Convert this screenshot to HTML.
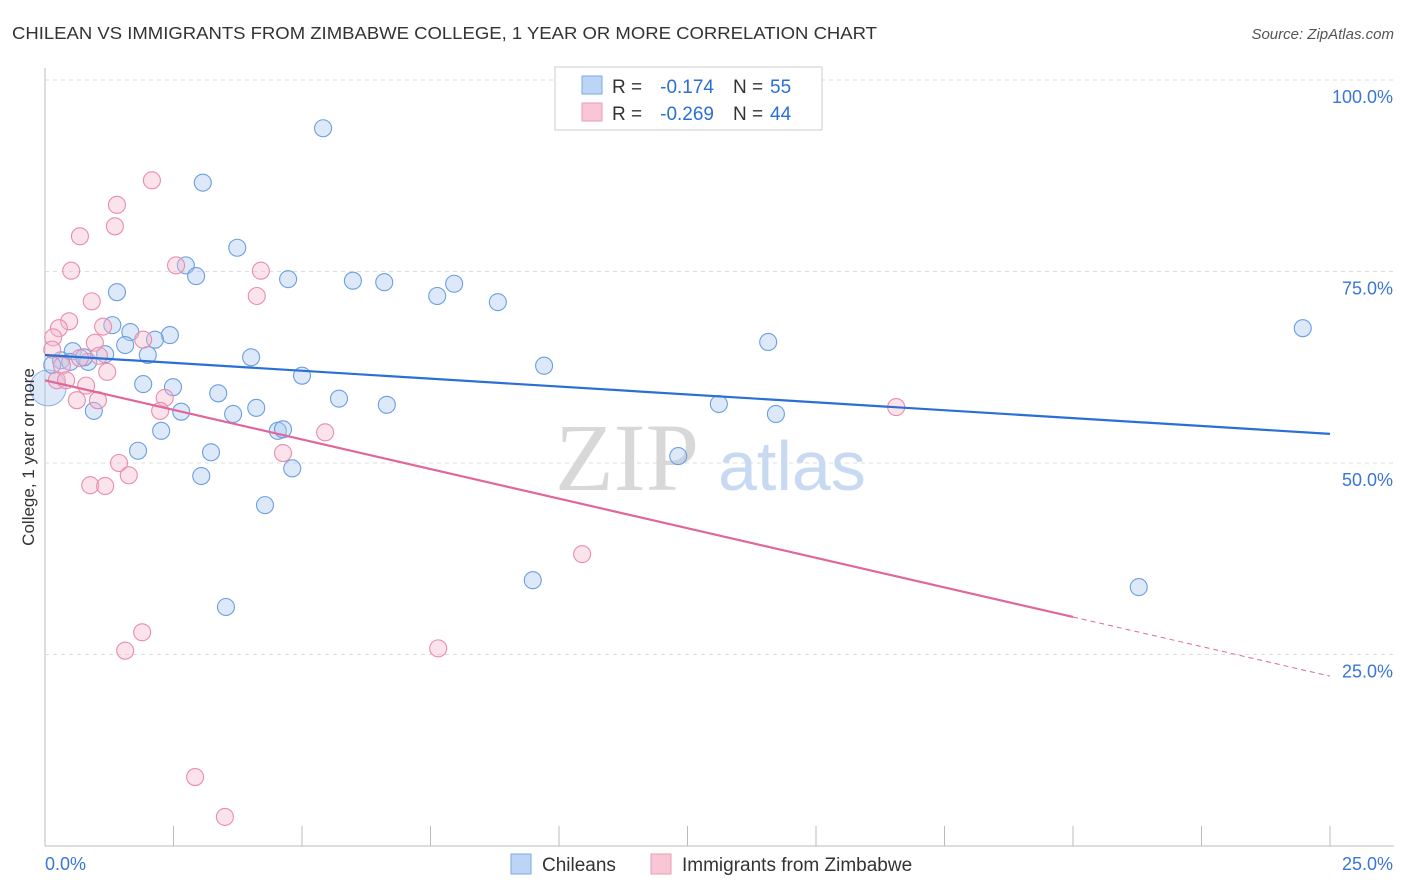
<!DOCTYPE html>
<html><head><meta charset="utf-8"><style>
body{margin:0;background:#fff;font-family:"Liberation Sans",sans-serif;}
svg{display:block}
</style></head><body>
<svg id="chart" width="1406" height="892" viewBox="0 0 1406 892" xmlns="http://www.w3.org/2000/svg">
<text x="12" y="39" font-size="17.5" fill="#333" textLength="865" lengthAdjust="spacingAndGlyphs">CHILEAN VS IMMIGRANTS FROM ZIMBABWE COLLEGE, 1 YEAR OR MORE CORRELATION CHART</text>
<text x="1394" y="39" font-size="15" fill="#555" font-style="italic" text-anchor="end">Source: ZipAtlas.com</text>
<g id="grid"></g>
<g>
<text x="555" y="490" fill="#d8d8d8" font-size="96" font-family="Liberation Serif,serif">ZIP</text>
<text x="718" y="490" fill="#c8daf2" font-family="Liberation Sans,sans-serif" font-size="70">atlas</text>
</g>
<g id="pts"></g>
<g id="lines"></g>
<text transform="translate(34,457) rotate(-90)" font-size="17" fill="#333" text-anchor="middle">College, 1 year or more</text>
<g font-size="19">
<rect x="555" y="67" width="267" height="63" fill="#fff" stroke="#ccc"/>
<rect x="582" y="76" width="20" height="18" fill="#bcd4f5" stroke="#7aa7e6"/>
<rect x="582" y="103" width="20" height="18" fill="#f9c6d6" stroke="#ec9ab5"/>
<text x="612" y="93" fill="#333">R =</text>
<text x="714" y="93" fill="#2a6fd6" text-anchor="end">-0.174</text>
<text x="733" y="93" fill="#333">N =</text>
<text x="770" y="93" fill="#2a6fd6">55</text>
<text x="612" y="120" fill="#333">R =</text>
<text x="714" y="120" fill="#2a6fd6" text-anchor="end">-0.269</text>
<text x="733" y="120" fill="#333">N =</text>
<text x="770" y="120" fill="#2a6fd6">44</text>
</g>
<g>
<rect x="511" y="854" width="20" height="20" fill="#bcd4f5" stroke="#7aa7e6"/>
<text x="542" y="871" font-size="19" fill="#333">Chileans</text>
<rect x="651" y="854" width="20" height="20" fill="#f9c6d6" stroke="#ec9ab5"/>
<text x="682" y="871" font-size="19" fill="#333">Immigrants from Zimbabwe</text>
</g>
</svg>
<script>
const yTicks=[25,50,75,100];
const yTickLabels=["25.0%","50.0%","75.0%","100.0%"];
const xTickLabels=["0.0%","25.0%"];
const blueX=[5.41,3.07,3.74,2.74,2.94,4.73,5.99,6.60,7.96,7.63,8.81,1.40,1.31,1.66,2.43,2.14,1.56,2.00,1.17,0.54,0.31,0.49,0.84,0.76,4.01,9.71,14.07,24.47,5.00,1.91,2.49,3.37,5.72,4.11,3.66,6.65,2.65,0.95,13.11,14.22,2.26,4.53,4.63,1.81,3.23,12.32,4.81,3.04,4.28,9.49,21.28,3.52,0.14];
const blueY=[93.7,86.6,78.1,75.8,74.4,74.0,73.8,73.6,73.4,71.8,71.0,72.3,68.0,67.1,66.7,66.1,65.4,64.1,64.2,64.6,63.4,63.2,63.2,63.8,63.8,62.7,65.8,67.6,61.4,60.3,59.9,59.1,58.4,57.2,56.4,57.6,56.7,56.8,57.7,56.4,54.2,54.2,54.4,51.6,51.4,50.9,49.3,48.3,44.5,34.7,33.8,31.2,62.8];
const pinkX=[2.08,1.40,1.36,0.68,0.51,2.55,4.20,4.12,0.91,0.47,0.27,0.16,1.13,1.91,0.97,1.05,0.68,0.14,0.33,1.21,0.23,0.41,0.80,0.62,1.03,2.33,2.24,16.56,5.45,4.63,1.44,1.63,0.88,1.17,10.45,1.89,1.56,7.65,2.92,3.50];
const pinkY=[86.9,83.7,80.9,79.6,75.1,75.8,75.1,71.8,71.1,68.5,67.6,66.4,67.8,66.1,65.7,64.0,63.7,64.8,62.7,61.9,60.8,60.8,60.1,58.2,58.2,58.5,56.8,57.3,54.0,51.3,50.0,48.4,47.1,47.0,38.1,27.9,25.5,25.8,9.0,3.8];
const bigBlue=[0.06,59.8];
const blueTrend=[64.1,53.8];
const pinkTrend=[60.8,-1.545,20];
const NS="http://www.w3.org/2000/svg";
const X=v=>45+v/25*1285, Y=v=>846-v/100*766;
function mk(t,a,p){const e=document.createElementNS(NS,t);for(const k in a)e.setAttribute(k,a[k]);p.appendChild(e);return e;}
const grid=document.getElementById('grid');
const ax=mk('line',{x1:45,y1:68,x2:45,y2:846,stroke:'#bbb'},grid);


const bx=mk('line',{x1:45,y1:846,x2:1394,y2:846,stroke:'#bbb'},grid);


yTicks.forEach((t,i)=>{
 const g=mk('line',{x1:45,y1:Y(t),x2:1394,y2:Y(t),stroke:'#ddd','stroke-dasharray':'4,4'},grid);
 
 
 const l=mk('text',{x:1393,y:Y(t)+23,'font-size':18,fill:'#3a76d4','text-anchor':'end'},grid);
 l.textContent=yTickLabels[i];
 
 
});
for(let i=0;i<=10;i++){const t=mk('line',{x1:X(i*2.5),y1:826,x2:X(i*2.5),y2:846,stroke:'#bbb'},grid);
 
 }
[[0,45,'start'],[25,1393,'end']].forEach((d,i)=>{const l=mk('text',{x:d[1],y:870,'font-size':18,fill:'#3a76d4','text-anchor':d[2]},grid);
 l.textContent=xTickLabels[i];
 
 });
const pts=document.getElementById('pts');
const bb=mk('circle',{cx:X(bigBlue[0]),cy:Y(bigBlue[1]),r:18,fill:'rgba(170,200,240,0.4)',stroke:'#8ab2e8'},pts);


blueX.forEach((x,i)=>{const c=mk('circle',{cx:X(x),cy:Y(blueY[i]),r:8.5,fill:'rgba(170,200,240,0.4)',stroke:'#6a9fe0','stroke-width':1.1},pts);
 
 });
pinkX.forEach((x,i)=>{const c=mk('circle',{cx:X(x),cy:Y(pinkY[i]),r:8.5,fill:'rgba(246,185,205,0.4)',stroke:'#ea8cab','stroke-width':1.1},pts);
 
 });
const lines=document.getElementById('lines');
const bl=mk('line',{x1:X(0),y1:Y(blueTrend[0]),x2:X(25),y2:Y(blueTrend[1]),stroke:'#2a6fd6','stroke-width':2.2},lines);


const pe=pinkTrend[0]+pinkTrend[1]*pinkTrend[2], pf=pinkTrend[0]+pinkTrend[1]*25;
const pl=mk('line',{x1:X(0),y1:Y(pinkTrend[0]),x2:X(pinkTrend[2]),y2:Y(pe),stroke:'#e0679a','stroke-width':2.2},lines);


const pd=mk('line',{x1:X(pinkTrend[2]),y1:Y(pe),x2:X(25),y2:Y(pf),stroke:'#e0679a','stroke-width':1,'stroke-dasharray':'5,4'},lines);


</script>
</body></html>
